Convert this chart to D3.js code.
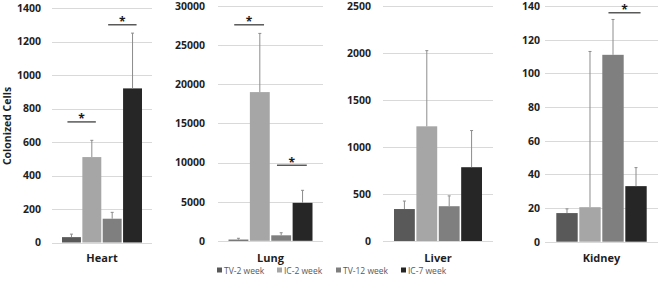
<!DOCTYPE html>
<html><head><meta charset="utf-8">
<script src="https://cdn.jsdelivr.net/npm/d3@7"></script>
<style>
html,body{margin:0;padding:0;background:#fff;}
svg{display:block;font-family:"Open Sans","Liberation Sans",sans-serif;}
</style></head>
<body><svg id="chart" width="660" height="286"></svg>
<script>
// ---- data ----
const categories = ["Heart", "Lung", "Liver", "Kidney"];
const seriesNames = ["TV-2 week", "IC-2 week", "TV-12 week", "IC-7 week"];
const tv2  = [32, 150, 340, 17];
const ic2  = [510, 19000, 1220, 20.5];
const tv12 = [142, 700, 370, 111];
const ic7  = [920, 4850, 785, 33];
const tv2Err  = [18, 170, 85, 2.5];
const ic2Err  = [100, 7500, 805, 92.5];
const tv12Err = [38, 330, 110, 21];
const ic7Err  = [330, 1600, 390, 11];
const yMax  = [1400, 30000, 2500, 140];
const yStep = [200, 5000, 500, 20];
// significance brackets: panel, series a, series b, value level
const sigPanel = [0, 0, 1, 1, 3];
const sigA     = [0, 2, 0, 2, 2];
const sigB     = [1, 3, 1, 3, 3];
const sigLevel = [720, 1300, 27600, 9650, 136];

// ---- layout ----
const colors = ["#595959", "#a6a6a6", "#7f7f7f", "#262626"];
const panels = [
  {l: 52,  r: 152, t: 8,   b: 242.5, lab: 41},
  {l: 218, r: 323, t: 6,   b: 240.8, lab: 205},
  {l: 383, r: 493, t: 6,   b: 241,   lab: 371},
  {l: 545, r: 658, t: 6,   b: 241.7, lab: 540}
];
const values = [tv2, ic2, tv12, ic7];
const errs = [tv2Err, ic2Err, tv12Err, ic7Err];

const svg = d3.select("#chart");

categories.forEach((cat, pi) => {
  const p = panels[pi];
  const g = svg.append("g");
  const y = d3.scaleLinear().domain([0, yMax[pi]]).range([p.b, p.t]);
  const x0 = d3.scaleBand().domain([cat]).range([p.l, p.r]).paddingOuter(0.125).paddingInner(0);
  const x1 = d3.scaleBand().domain(seriesNames).range([0, x0.bandwidth()]).paddingInner(0.07);
  const ticks = d3.range(0, yMax[pi] + yStep[pi] / 2, yStep[pi]);

  // gridlines
  g.selectAll("line.grid").data(ticks).join("line")
    .attr("x1", p.l).attr("x2", p.r)
    .attr("y1", d => Math.round(y(d)) + 0.5).attr("y2", d => Math.round(y(d)) + 0.5)
    .attr("stroke", "#d9d9d9").attr("stroke-width", 1);

  // axis labels
  const ax = d3.axisLeft(y).tickValues(ticks).tickSize(0).tickPadding(0).tickFormat(d3.format("d"));
  const axg = g.append("g").attr("transform", `translate(${p.lab},0)`).call(ax);
  axg.select(".domain").remove();
  axg.selectAll("text").attr("font-size", 10.5).attr("font-weight", "bold")
    .attr("fill", "#1f1f1f").attr("font-family", "'Open Sans',sans-serif");

  // bars
  const data = seriesNames.map((s, si) => ({s, si, v: values[si][pi], e: errs[si][pi]}));
  const bx = d => x0(cat) + x1(d.s);
  g.selectAll("rect.bar").data(data).join("rect")
    .attr("x", bx).attr("width", x1.bandwidth())
    .attr("y", d => y(d.v)).attr("height", d => y(0) - y(d.v))
    .attr("fill", d => colors[d.si]);

  // error bars (upper only)
  const eg = g.selectAll("g.err").data(data).join("g");
  eg.append("line")
    .attr("x1", d => bx(d) + x1.bandwidth() / 2).attr("x2", d => bx(d) + x1.bandwidth() / 2)
    .attr("y1", d => y(d.v)).attr("y2", d => y(d.v + d.e))
    .attr("stroke", "#8c8c8c").attr("stroke-width", 1);
  eg.append("line")
    .attr("x1", d => bx(d) + x1.bandwidth() / 2 - 1.5).attr("x2", d => bx(d) + x1.bandwidth() / 2 + 1.5)
    .attr("y1", d => y(d.v + d.e)).attr("y2", d => y(d.v + d.e))
    .attr("stroke", "#8c8c8c").attr("stroke-width", 1);

  // category label
  g.append("text").attr("x", x0(cat) + x0.bandwidth() / 2).attr("y", 262)
    .attr("text-anchor", "middle").attr("font-size", 11).attr("font-weight", "bold")
    .attr("fill", "#1f1f1f").text(cat);

  // significance brackets
  sigPanel.forEach((sp, k) => {
    if (sp !== pi) return;
    const ca = x0(cat) + x1(seriesNames[sigA[k]]) + x1.bandwidth() / 2;
    const cb = x0(cat) + x1(seriesNames[sigB[k]]) + x1.bandwidth() / 2;
    const mid = (ca + cb) / 2, half = x1.bandwidth() * 0.75;
    const yy = y(sigLevel[k]);
    g.append("line").attr("x1", mid - half).attr("x2", mid + half)
      .attr("y1", yy).attr("y2", yy).attr("stroke", "#595959").attr("stroke-width", 1.5);
    g.append("text").attr("x", mid).attr("y", yy + 1.5).attr("text-anchor", "middle")
      .attr("font-size", 12).attr("font-weight", "bold").attr("fill", "#1a1a1a").text("*");
  });
});

// y-axis title
svg.append("text").attr("transform", "translate(11,126) rotate(-90)")
  .attr("text-anchor", "middle").attr("font-size", 10.5).attr("font-weight", "bold")
  .attr("fill", "#1f1f1f").text("Colonized Cells");

// legend
const legX = [217, 277, 336, 401];
const leg = svg.append("g");
seriesNames.forEach((s, i) => {
  leg.append("rect").attr("x", legX[i]).attr("y", 267.5).attr("width", 5).attr("height", 5).attr("fill", colors[i]);
  leg.append("text").attr("x", legX[i] + 7).attr("y", 273.5).attr("font-size", 8.5)
    .attr("fill", "#595959").text(s);
});
</script></body></html>
